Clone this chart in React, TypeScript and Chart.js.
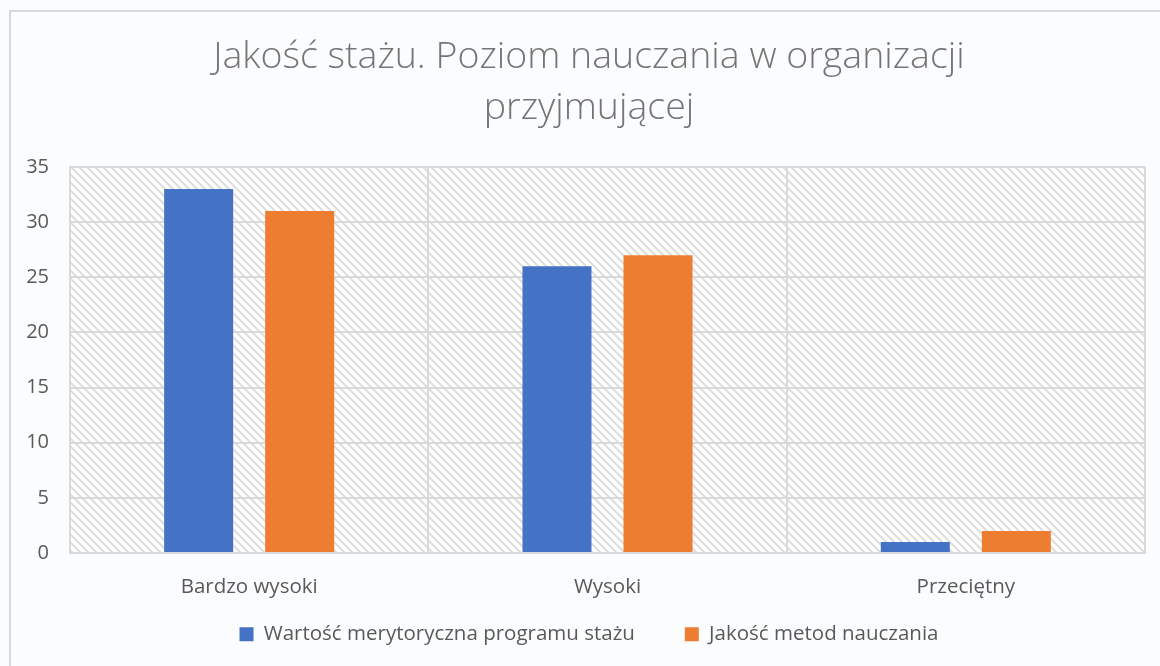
import React, { useEffect, useRef } from "react";
import { Chart, registerables } from "chart.js";

Chart.register(...registerables);

const categories = ["Bardzo wysoki", "Wysoki", "Przeciętny"];
const seriesProgram = [33, 26, 1];
const seriesMetody = [31, 27, 2];
const seriesNames = ["Wartość merytoryczna programu stażu", "Jakość metod nauczania"];
const titleLines = ["Jakość stażu. Poziom nauczania w organizacji", "przyjmującej"];
const yTicks = [0, 5, 10, 15, 20, 25, 30, 35];

const FONT = "'Open Sans', 'Noto Sans', sans-serif";
const TEXT = "#595959";
const GRID = "#d9d9d9";

function makePattern(): CanvasPattern | string {
  const s = 8;
  const c = document.createElement("canvas");
  c.width = s;
  c.height = s;
  const g = c.getContext("2d");
  if (!g) return "#ffffff";
  g.fillStyle = "#ffffff";
  g.fillRect(0, 0, s, s);
  g.strokeStyle = "#dedede";
  g.lineWidth = 2.2;
  g.beginPath();
  g.moveTo(-2, -2);
  g.lineTo(s + 2, s + 2);
  g.moveTo(-2, s - 2);
  g.lineTo(2, s + 2);
  g.moveTo(s - 2, -2);
  g.lineTo(s + 2, 2);
  g.stroke();
  const p = g.createPattern(c, "repeat");
  return p || "#ffffff";
}

const hatchPlugin = {
  id: "hatch",
  beforeDraw(chart: any) {
    const { ctx, chartArea } = chart;
    if (!chartArea) return;
    ctx.save();
    ctx.fillStyle = makePattern();
    ctx.fillRect(chartArea.left, chartArea.top, chartArea.right - chartArea.left, chartArea.bottom - chartArea.top);
    ctx.restore();
  },
};

export default function App() {
  const ref = useRef<HTMLCanvasElement | null>(null);

  useEffect(() => {
    document.body.style.margin = "0";
    document.body.style.background = "#fbfcfe";
    if (!ref.current) return;
    const chart = new Chart(ref.current, {
      type: "bar",
      data: {
        labels: categories,
        datasets: [
          {
            label: seriesNames[0],
            data: seriesProgram,
            backgroundColor: "#4472c4",
            categoryPercentage: 0.564,
            barPercentage: 0.683,
          },
          {
            label: seriesNames[1],
            data: seriesMetody,
            backgroundColor: "#ed7d31",
            categoryPercentage: 0.564,
            barPercentage: 0.683,
          },
        ],
      },
      options: {
        animation: false,
        responsive: false,
        maintainAspectRatio: false,
        layout: { padding: { left: 0, right: 2, top: 0, bottom: 11.5 } },
        plugins: {
          title: {
            display: true,
            text: titleLines,
            color: "#757575",
            font: { family: FONT, size: 37.5, weight: "300", lineHeight: 51 / 37.5 },
            padding: { top: 32, bottom: 33 },
          },
          legend: {
            position: "bottom",
            labels: {
              color: TEXT,
              font: { family: FONT, size: 20.5 },
              boxWidth: 14,
              boxHeight: 14,
              padding: 50,
            },
          },
          tooltip: { enabled: false },
        },
        scales: {
          x: {
            offset: true,
            grid: { offset: true, color: GRID, lineWidth: 2, drawTicks: false },
            border: { color: GRID, width: 2 },
            ticks: { color: TEXT, font: { family: FONT, size: 20.5 }, padding: 22 },
            afterFit: (s: any) => {
              s.height = 21;
              s._computeLabelArea = () => undefined;
            },
          },
          y: {
            min: 0,
            max: 35,
            afterBuildTicks: (s: any) => {
              s.ticks = yTicks.map((v) => ({ value: v }));
            },
            grid: { color: GRID, lineWidth: 2, drawTicks: false },
            border: { color: GRID, width: 2 },
            ticks: { color: TEXT, font: { family: FONT, size: 20 }, padding: 21 },
            afterFit: (s: any) => {
              s.width = 70;
            },
          },
          yPad: {
            type: "linear",
            position: "right",
            display: true,
            grid: { display: false, drawTicks: false },
            border: { display: false },
            ticks: { display: false },
            afterFit: (s: any) => {
              s.width = 33;
            },
          },
        },
      },
      plugins: [hatchPlugin],
    });
    return () => chart.destroy();
  }, []);

  return (
    <div style={{ position: "relative", width: 1160, height: 666, background: "#fbfcfe", overflow: "hidden" }}>
      <div
        style={{
          position: "absolute",
          left: 9,
          top: 10,
          width: 1170,
          height: 680,
          border: "2px solid #d9d9d9",
          boxSizing: "border-box",
        }}
      />
      <canvas ref={ref} width={1180} height={666} style={{ position: "absolute", left: 0, top: 0, display: "block" }} />
    </div>
  );
}
